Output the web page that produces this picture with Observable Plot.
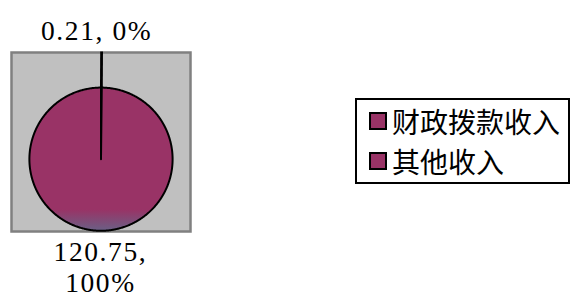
<!DOCTYPE html>
<html>
<head>
<meta charset="utf-8">
<script src="https://cdn.jsdelivr.net/npm/d3@7"></script>
<script src="https://cdn.jsdelivr.net/npm/@observablehq/plot@0.6"></script>
<style>
  html, body { margin: 0; padding: 0; background: #fff; }
  #wrap { position: relative; width: 573px; height: 302px; }
  #wrap svg text { letter-spacing: 1.6px; }
  #legend { position: absolute; left: 355px; top: 98px; width: 211px; height: 82px;
    border: 2px solid #000; box-sizing: content-box; background: #fff;
    font-family: "Noto Sans CJK SC", sans-serif; font-size: 28px; color: #000; }
  .item { position: absolute; left: 12px; height: 40px; display: flex; align-items: center; white-space: nowrap; }
  .sw { width: 14px; height: 14px; border: 2px solid #000; margin-right: 5px; flex: none; }
</style>
</head>
<body>
<div id="wrap"></div>
<script>
const categories = ["财政拨款收入", "其他收入"];
const values = [0.21, 120.75];
const percentLabels = ["0%", "100%"];
const valueLabels = ["0.21", "120.75"];
const colors = ["#993366", "#993366"];

const pie = d3.pie().sort(null).startAngle(0).endAngle(2 * Math.PI)(values);

// slice outlines computed from pie angles
const slicePts = [];
pie.forEach((s, i) => {
  const n = Math.max(2, Math.ceil((s.endAngle - s.startAngle) / 0.01));
  slicePts.push({k: i, x: 0, y: 0});
  for (let j = 0; j <= n; j++) {
    const a = s.startAngle + (s.endAngle - s.startAngle) * j / n;
    slicePts.push({k: i, x: Math.sin(a), y: Math.cos(a)});
  }
  slicePts.push({k: i, x: 0, y: 0});
});

const mid = s => (s.startAngle + s.endAngle) / 2;
const labelRadius = [1.8, 1.5];
const labels = pie.map((s, i) => ({
  x: Math.sin(mid(s)) * labelRadius[i] - (i === 0 ? 0.07 : 0),
  y: Math.cos(mid(s)) * labelRadius[i],
  text: i === 0 ? `${valueLabels[i]}, ${percentLabels[i]}` : `${valueLabels[i]},\n${percentLabels[i]}`
}));
// leader line for the tiny slice
const leaders = [pie[0]].map(s => ({
  x1: Math.sin(mid(s)) * 1.0, y1: Math.cos(mid(s)) * 1.0,
  x2: Math.sin(mid(s)) * 1.505, y2: Math.cos(mid(s)) * 1.505
}));

const chart = Plot.plot({
  width: 573, height: 302,
  marginLeft: 11, marginRight: 383, marginTop: 52, marginBottom: 71,
  x: {domain: [-1.25, 1.25], axis: null},
  y: {domain: [-1.01, 1.49], axis: null},
  style: {background: "transparent", overflow: "visible"},
  marks: [
    Plot.frame({fill: "#C0C0C0", stroke: "#808080", strokeWidth: 2.5}),
    Plot.line(slicePts, {x: "x", y: "y", z: "k", fill: d => d.k === 1 ? "url(#pieGrad)" : colors[d.k],
      stroke: "#000", strokeWidth: 2, strokeLinejoin: "round", curve: "linear"}),
    Plot.link(leaders, {x1: "x1", y1: "y1", x2: "x2", y2: "y2", stroke: "#000", strokeWidth: 2.8}),
    Plot.text(labels, {x: "x", y: "y", text: "text", fontSize: 27.5, lineHeight: 1.13,
      fontFamily: "'Liberation Serif', 'Noto Sans CJK SC', serif", fill: "#000", lineAnchor: "middle"})
  ]
});

const svg = d3.select(chart);
const defs = svg.insert("defs", ":first-child");
const g = defs.append("linearGradient").attr("id", "pieGrad").attr("x1", 0).attr("y1", 0).attr("x2", 0).attr("y2", 1);
g.append("stop").attr("offset", "0.85").attr("stop-color", "#993366");
g.append("stop").attr("offset", "1").attr("stop-color", "#6a6086");

document.getElementById("wrap").appendChild(chart);

const legend = d3.select("#wrap").append("div").attr("id", "legend");
categories.forEach((c, i) => {
  const it = legend.append("div").attr("class", "item").style("top", (i * 40 + 1) + "px");
  it.append("div").attr("class", "sw").style("background", colors[i]);
  it.append("span").text(c);
});
</script>
</body>
</html>
